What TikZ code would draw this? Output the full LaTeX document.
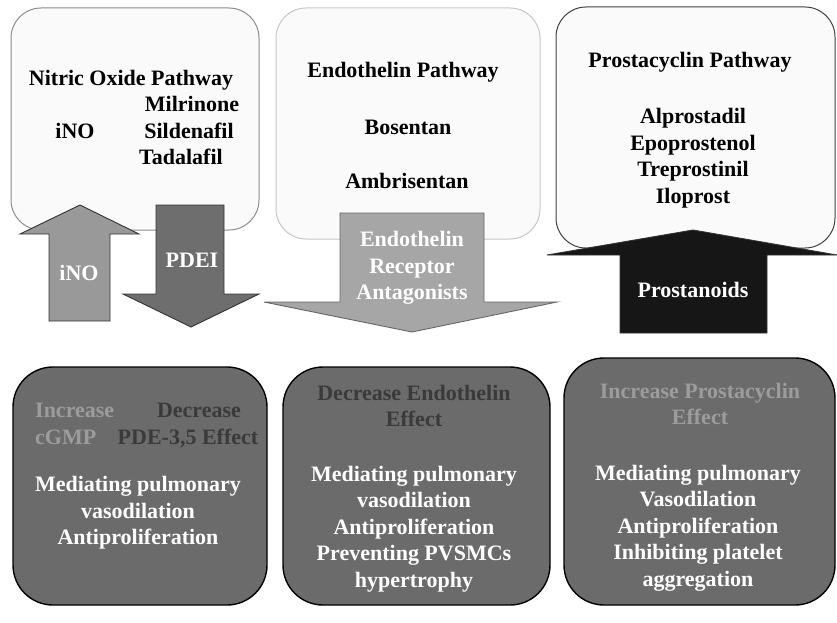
\documentclass[tikz,border=0pt]{standalone}
\usepackage{fontspec}
\setmainfont{Liberation Serif}
\definecolor{topfill}{HTML}{FAFAFA}
\definecolor{botfill}{HTML}{6B6B6B}
\definecolor{lighttxt}{HTML}{9C9C9C}
\definecolor{darktxt}{HTML}{3A3A3A}
\definecolor{inofill}{HTML}{999999}
\definecolor{pdeifill}{HTML}{6E6E6E}
\definecolor{etfill}{HTML}{A6A6A6}
\definecolor{prfill}{HTML}{161616}
\tikzset{
  txt/.style={font=\bfseries\fontsize{22}{26.5}\selectfont, align=center, inner sep=0pt},
  topbox/.style={rectangle, rounded corners=30pt, fill=topfill, line width=1pt, inner sep=0pt},
  botbox/.style={rectangle, rounded corners=40pt, fill=botfill, draw=black, line width=1.4pt, inner sep=0pt},
  blockarrow/.style={draw=black!80, line width=0.9pt, line join=miter},
}
\begin{document}
\begin{tikzpicture}[x=1pt,y=-1pt]
\useasboundingbox (0,0) rectangle (837,623);
% top boxes
\node[topbox, draw=black!45, minimum width=248pt, minimum height=222pt] (tb1) at (135,119) {};
\node[topbox, draw=black!22, minimum width=264pt, minimum height=231pt] (tb2) at (408,123.5) {};
\node[topbox, draw=black!75, minimum width=279pt, minimum height=241pt] (tb3) at (695.5,127.5) {};
% top texts
\node[txt] (t1) at (131,80) {Nitric Oxide Pathway};
\node[txt] (t1a) at (192,104) {Milrinone};
\node[txt] (t1b) at (75,131) {iNO};
\node[txt] (t1c) at (189,131) {Sildenafil};
\node[txt] (t1d) at (181,157) {Tadalafil};
\node[txt] (t2) at (403,72) {Endothelin Pathway};
\node[txt] (t2a) at (408,127) {Bosentan};
\node[txt] (t2b) at (407,181) {Ambrisentan};
\node[txt] (t3) at (690,62) {Prostacyclin Pathway};
\node[txt] (t3a) at (693,158) {Alprostadil\\Epoprostenol\\Treprostinil\\Iloprost};
% block arrows
\draw[blockarrow, fill=inofill] (80,205) -- (139,234) -- (110,234) -- (110,321) -- (49,321) -- (49,234) -- (20,234) -- cycle;
\draw[blockarrow, fill=pdeifill] (156,205) -- (224,205) -- (224,294) -- (259,294) -- (191,327) -- (123,294) -- (156,294) -- cycle;
\draw[blockarrow, draw=black!60, fill=etfill] (340,213) -- (484,213) -- (484,302) -- (557,302) -- (412,332) -- (264,302) -- (340,302) -- cycle;
\draw[blockarrow, fill=prfill] (693,230) -- (837,255) -- (767,255) -- (767,333) -- (620,333) -- (620,255) -- (547,255) -- cycle;
\node[txt, text=white] (a1) at (79,273) {iNO};
\node[txt, text=white] (a2) at (192,260) {PDEI};
\node[txt, text=white] (a3) at (412,268) {Endothelin\\Receptor\\Antagonists};
\node[txt, text=white] (a4) at (693,290) {Prostanoids};
% bottom boxes
\node[botbox, minimum width=254pt, minimum height=238pt] (bb1) at (140,486) {};
\node[botbox, minimum width=267pt, minimum height=238pt] (bb2) at (416.5,486) {};
\node[botbox, minimum width=271pt, minimum height=247pt] (bb3) at (699.5,481.5) {};
% bottom texts
\node[txt, text=lighttxt, align=left, anchor=west] (b1a) at (35,424) {Increase\\cGMP};
\node[txt, text=darktxt] (b1b) at (199,410) {Decrease};
\node[txt, text=darktxt] (b1c) at (188,438) {PDE-3,5 Effect};
\node[txt, text=white] (b1d) at (138,513) {Mediating pulmonary\\vasodilation\\Antiproliferation};
\node[txt, text=darktxt] (b2a) at (414,406) {Decrease Endothelin\\Effect};
\node[txt, text=white] (b2b) at (414,529) {Mediating pulmonary\\vasodilation\\Antiproliferation\\Preventing PVSMCs\\hypertrophy};
\node[txt, text=lighttxt] (b3a) at (700,404) {Increase Prostacyclin\\Effect};
\node[txt, text=white] (b3b) at (698,528) {Mediating pulmonary\\Vasodilation\\Antiproliferation\\Inhibiting platelet\\aggregation};
\end{tikzpicture}
\end{document}
